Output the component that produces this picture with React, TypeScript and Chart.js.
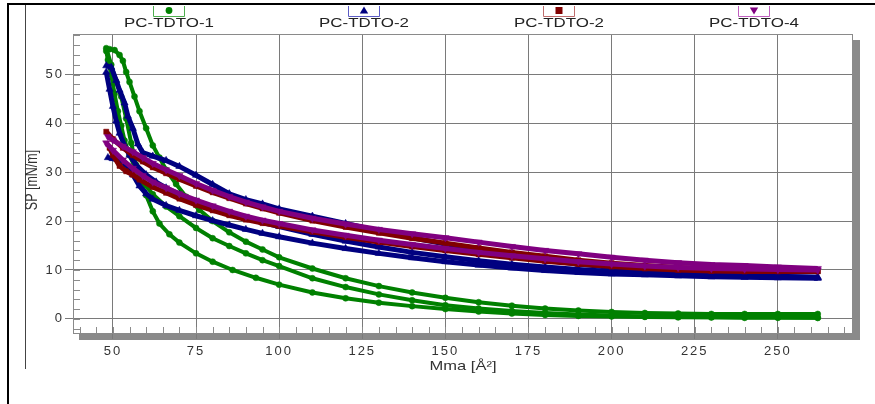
import React, { useEffect, useRef } from 'react';
import { Chart, registerables } from 'chart.js';

Chart.register(...registerables);

// ---- labels / ticks ----
const SERIES_NAMES = ['PC-TDTO-1', 'PC-TDTO-2', 'PC-TDTO-2', 'PC-TDTO-4'];
const X_TICKS = [50, 75, 100, 125, 150, 175, 200, 225, 250];
const Y_TICKS = [0, 10, 20, 30, 40, 50];
const X_TITLE = 'Mma [Å²]';
const Y_TITLE = 'SP [mN/m]';

// ---- PC-TDTO-1 (green, circles) ----
const G1_X = [49, 50.5, 52, 53, 54, 55, 56.5, 58, 60, 62, 64, 66, 69, 72, 76, 80, 85, 90, 95, 100, 110, 120, 130, 140, 150, 160, 170, 180, 190, 200, 210, 220, 230, 240, 250, 262];
const G1_Y = [55.2, 55.0, 54.0, 52.8, 50.5, 48.5, 45.5, 42.5, 39.0, 35.5, 33.0, 30.5, 27.6, 25.0, 22.3, 20.0, 17.7, 15.8, 14.2, 12.6, 10.3, 8.3, 6.7, 5.4, 4.3, 3.4, 2.7, 2.1, 1.7, 1.4, 1.2, 1.1, 1.0, 1.0, 1.0, 1.0];
const G2_X = [48, 48.5, 49.5, 50.5, 51.5, 52.5, 53.5, 55, 57, 59, 62, 66, 70, 75, 80, 85, 90, 95, 100, 110, 120, 130, 140, 150, 160, 170, 180, 190, 200, 210, 220, 230, 240, 250, 262];
const G2_Y = [54.8, 53.0, 50.0, 46.0, 42.5, 39.5, 36.5, 33.5, 30.5, 28.0, 25.5, 23.0, 21.0, 18.6, 16.5, 14.9, 13.4, 12.0, 10.8, 8.3, 6.5, 5.0, 3.8, 2.8, 2.1, 1.6, 1.2, 0.9, 0.7, 0.5, 0.4, 0.3, 0.3, 0.3, 0.2];
const G3_X = [48, 49.5, 51, 52.5, 54, 55.5, 57, 58.5, 60, 62, 64, 67, 70, 75, 80, 86, 93, 100, 110, 120, 130, 140, 150, 160, 170, 180, 190, 200, 210, 220, 230, 240, 250, 262];
const G3_Y = [55.4, 52.0, 48.5, 45.5, 41.0, 36.0, 31.5, 28.0, 25.3, 22.0, 19.5, 17.3, 15.6, 13.4, 11.7, 10.0, 8.4, 7.0, 5.4, 4.2, 3.3, 2.6, 2.0, 1.5, 1.1, 0.8, 0.6, 0.5, 0.4, 0.3, 0.3, 0.2, 0.2, 0.2];

// ---- PC-TDTO-2 (navy, triangles) ----
const B1_X = [48, 49.5, 51, 52, 53.5, 54.5, 56, 57.5, 59, 62, 66, 70, 75, 80, 85, 90, 95, 100, 110, 120, 130, 140, 150, 160, 170, 180, 190, 200, 210, 220, 230, 240, 250, 262];
const B1_Y = [51.8, 51.5, 48.8, 46.8, 44.2, 41.5, 39.0, 35.8, 34.0, 33.3, 32.4, 31.2, 29.4, 27.5, 25.6, 24.4, 23.5, 22.5, 21.0, 19.5, 18.0, 16.6, 15.3, 14.1, 13.0, 12.0, 11.2, 10.5, 9.9, 9.5, 9.2, 8.9, 8.7, 8.5];
const B2_X = [48.5, 50, 52, 54, 56, 58, 60, 62, 66, 70, 75, 80, 85, 90, 95, 100, 110, 120, 130, 140, 150, 160, 170, 180, 190, 200, 210, 220, 230, 240, 250, 262];
const B2_Y = [33.0, 32.8, 32.3, 31.5, 29.5, 27.2, 25.6, 24.5, 23.2, 22.2, 21.1, 20.1, 19.2, 18.3, 17.5, 16.8, 15.5, 14.4, 13.4, 12.5, 11.7, 11.0, 10.4, 9.9, 9.5, 9.2, 9.0, 8.8, 8.6, 8.5, 8.4, 8.3];
const B3_X = [48, 49, 50, 51, 52, 53.5, 55, 57, 60, 63, 66, 70, 75, 80, 85, 90, 95, 100, 110, 120, 130, 140, 150, 160, 170, 180, 190, 200, 210, 220, 230, 240, 250, 262];
const B3_Y = [50.5, 47.0, 43.5, 40.5, 38.0, 35.5, 33.5, 31.5, 29.5, 28.0, 26.8, 25.5, 24.0, 22.7, 21.6, 20.6, 19.7, 18.9, 17.3, 15.9, 14.7, 13.6, 12.7, 11.9, 11.2, 10.6, 10.1, 9.7, 9.4, 9.1, 8.9, 8.7, 8.6, 8.5];

// ---- PC-TDTO-2 (maroon, squares) ----
const R1_X = [48, 50, 53, 56, 59, 62, 66, 70, 75, 80, 85, 90, 95, 100, 110, 120, 130, 140, 150, 160, 170, 180, 190, 200, 210, 220, 230, 240, 250, 262];
const R1_Y = [38.3, 36.8, 35.0, 33.5, 32.2, 31.0, 29.8, 28.6, 27.2, 25.9, 24.7, 23.6, 22.6, 21.7, 20.1, 18.8, 17.6, 16.5, 15.5, 14.5, 13.6, 12.8, 12.0, 11.4, 10.9, 10.5, 10.2, 10.0, 9.9, 9.8];
const R2_X = [49, 50, 52, 54, 56, 58, 62, 66, 70, 75, 80, 85, 90, 95, 100, 110, 120, 130, 140, 150, 160, 170, 180, 190, 200, 210, 220, 230, 240, 250, 262];
const R2_Y = [35.0, 33.5, 31.3, 30.2, 29.5, 28.5, 27.0, 25.8, 24.6, 23.3, 22.2, 21.2, 20.3, 19.6, 19.0, 17.8, 16.7, 15.7, 14.8, 14.0, 13.2, 12.5, 11.8, 11.2, 10.7, 10.3, 10.0, 9.8, 9.7, 9.7, 9.7];

// ---- PC-TDTO-4 (purple, down triangles) ----
const P1_X = [48.5, 50, 53, 56, 59, 62, 66, 70, 75, 80, 85, 90, 95, 100, 110, 120, 130, 140, 150, 160, 170, 180, 190, 200, 210, 220, 230, 240, 250, 262];
const P1_Y = [37.3, 36.6, 35.3, 34.2, 33.0, 31.8, 30.5, 29.3, 27.7, 26.3, 25.0, 23.9, 22.9, 22.0, 20.6, 19.4, 18.3, 17.4, 16.6, 15.7, 14.8, 14.0, 13.3, 12.6, 12.0, 11.5, 11.1, 10.9, 10.6, 10.3];
const P2_X = [48, 50, 53, 56, 59, 62, 66, 70, 75, 80, 85, 90, 95, 100, 110, 120, 130, 140, 150, 160, 170, 180, 190, 200, 210, 220, 230, 240, 250, 262];
const P2_Y = [36.0, 34.5, 32.5, 30.8, 29.3, 28.0, 26.8, 25.6, 24.3, 23.1, 22.0, 21.0, 20.2, 19.5, 18.2, 17.1, 16.1, 15.2, 14.4, 13.6, 12.9, 12.3, 11.7, 11.2, 10.8, 10.5, 10.3, 10.2, 10.1, 10.0];

const SERIES_BRANCHES = [
  [[G1_X, G1_Y], [G2_X, G2_Y], [G3_X, G3_Y]],
  [[B1_X, B1_Y], [B2_X, B2_Y], [B3_X, B3_Y]],
  [[R1_X, R1_Y], [R2_X, R2_Y]],
  [[P1_X, P1_Y], [P2_X, P2_Y]],
];

const STYLES = [
  { color: '#008000', box: '#4fae4f', style: 'circle', rotation: 0, radius: 3.0, width: 4, order: 3 },
  { color: '#000080', box: '#5b5bc4', style: 'triangle', rotation: 0, radius: 4.2, width: 5, order: 2 },
  { color: '#800000', box: '#bf6d6d', style: 'rect', rotation: 0, radius: 3.6, width: 5, order: 1 },
  { color: '#800080', box: '#bf5fbf', style: 'triangle', rotation: 180, radius: 4.2, width: 5, order: 0 },
];

const FONT = '"Liberation Sans", Arial, sans-serif';

function pts(xs: number[], ys: number[]) {
  return xs.map((x, i) => ({ x, y: ys[i] }));
}

function drawMarker(ctx: CanvasRenderingContext2D, kind: number, cx: number, cy: number) {
  const s = STYLES[kind];
  ctx.fillStyle = s.color;
  ctx.beginPath();
  if (kind === 0) {
    ctx.arc(cx, cy, 3.4, 0, Math.PI * 2);
  } else if (kind === 1) {
    ctx.moveTo(cx, cy - 4);
    ctx.lineTo(cx + 4.2, cy + 3);
    ctx.lineTo(cx - 4.2, cy + 3);
  } else if (kind === 2) {
    ctx.rect(cx - 3.5, cy - 3.5, 7, 7);
  } else {
    ctx.moveTo(cx, cy + 4);
    ctx.lineTo(cx + 4.2, cy - 3);
    ctx.lineTo(cx - 4.2, cy - 3);
  }
  ctx.closePath();
  ctx.fill();
}

const decorPlugin = {
  id: 'decor',
  beforeDraw(chart: any) {
    const ctx: CanvasRenderingContext2D = chart.ctx;
    const a = chart.chartArea;
    ctx.save();
    ctx.fillStyle = '#ffffff';
    ctx.fillRect(0, 0, chart.width, chart.height);
    // outer frame
    ctx.fillStyle = '#000000';
    ctx.fillRect(7, 3, 2, chart.height - 3);
    ctx.fillRect(7, 3, chart.width - 7, 2);
    // thin inner line
    ctx.strokeStyle = '#444444';
    ctx.lineWidth = 1;
    ctx.beginPath();
    ctx.moveTo(25.5, 5);
    ctx.lineTo(25.5, 369);
    ctx.stroke();
    // plot shadow
    ctx.fillStyle = '#8a8a8a';
    ctx.fillRect(a.right, a.top + 6, 7, a.bottom - a.top + 1);
    ctx.fillRect(a.left + 6, a.bottom, a.right - a.left + 1, 7);
    ctx.fillStyle = '#ffffff';
    ctx.fillRect(a.left, a.top, a.right - a.left, a.bottom - a.top);
    ctx.restore();
    (ctx as any).letterSpacing = '2px';
  },
  beforeDatasetsDraw(chart: any) {
    const ctx: CanvasRenderingContext2D = chart.ctx;
    (ctx as any).letterSpacing = '0px';
    const a = chart.chartArea;
    const xs = chart.scales.x;
    const ys = chart.scales.y;
    ctx.save();
    ctx.lineWidth = 1;
    // minor ticks
    ctx.strokeStyle = '#8c8c8c';
    ctx.beginPath();
    for (let v = 40; v <= 270; v += 5) {
      const px = Math.round(xs.getPixelForValue(v)) + 0.5;
      ctx.moveTo(px, a.bottom);
      ctx.lineTo(px, a.bottom - 6);
    }
    for (let v = -2; v <= 58; v += 2) {
      const py = Math.round(ys.getPixelForValue(v)) + 0.5;
      ctx.moveTo(a.left, py);
      ctx.lineTo(a.left + 7, py);
    }
    ctx.stroke();
    // plot border
    ctx.strokeStyle = '#8a8a8a';
    ctx.strokeRect(a.left + 0.5, a.top + 0.5, a.right - a.left - 1, a.bottom - a.top);
    ctx.restore();
  },
  afterDraw(chart: any) {
    const ctx: CanvasRenderingContext2D = chart.ctx;
    (ctx as any).letterSpacing = '0px';
    const a = chart.chartArea;
    const w = (a.right - a.left) / 4;
    ctx.save();
    SERIES_NAMES.forEach((name, i) => {
      const cx = Math.round(a.left + w * (i + 0.5) - 2);
      ctx.strokeStyle = STYLES[i].box;
      ctx.lineWidth = 1;
      ctx.beginPath();
      ctx.moveTo(cx - 15.5, 6);
      ctx.lineTo(cx - 15.5, 16.5);
      ctx.lineTo(cx + 15.5, 16.5);
      ctx.lineTo(cx + 15.5, 6);
      ctx.stroke();
      drawMarker(ctx, i, cx, 10.5);
      ctx.save();
      ctx.translate(cx, 23.5);
      ctx.scale(1.3, 1);
      ctx.fillStyle = '#222222';
      ctx.font = '13px ' + FONT;
      ctx.textAlign = 'center';
      ctx.textBaseline = 'middle';
      ctx.fillText(name, 0, 0);
      ctx.restore();
    });
    // axis titles
    ctx.fillStyle = '#333333';
    ctx.textAlign = 'center';
    ctx.textBaseline = 'middle';
    ctx.save();
    ctx.translate((a.left + a.right) / 2, 366);
    ctx.scale(1.27, 1);
    ctx.font = '13px ' + FONT;
    ctx.fillText(X_TITLE, 0, 0);
    ctx.restore();
    ctx.save();
    ctx.translate(32.5, 180);
    ctx.rotate(-Math.PI / 2);
    ctx.scale(1, 1.27);
    ctx.font = '12.5px ' + FONT;
    ctx.fillText(Y_TITLE, 0, 0);
    ctx.restore();
    ctx.restore();
  },
};

export default function App() {
  const ref = useRef<HTMLCanvasElement>(null);
  useEffect(() => {
    const canvas = ref.current;
    if (!canvas) return;
    const datasets: any[] = [];
    SERIES_BRANCHES.forEach((branches, si) => {
      const s = STYLES[si];
      branches.forEach(([xs, ys], bi) => {
        datasets.push({
          label: SERIES_NAMES[si] + ' #' + (bi + 1),
          data: pts(xs, ys),
          showLine: true,
          borderColor: s.color,
          backgroundColor: s.color,
          borderWidth: s.width,
          pointStyle: s.style,
          rotation: s.rotation,
          pointRadius: s.radius,
          pointBorderWidth: 0.5,
          pointBorderColor: s.color,
          order: s.order,
        });
      });
    });
    const chart = new Chart(canvas, {
      type: 'scatter',
      data: { datasets },
      options: {
        animation: false,
        responsive: false,
        devicePixelRatio: 1,
        layout: { padding: { left: 0, top: 34, right: 22, bottom: 0 } },
        plugins: { legend: { display: false }, tooltip: { enabled: false } },
        scales: {
          x: {
            type: 'linear',
            min: 38,
            max: 272.6,
            afterFit: (scale: any) => { scale.height = 71; },
            afterBuildTicks: (scale: any) => { scale.ticks = X_TICKS.map((v) => ({ value: v })); },
            ticks: { autoSkip: false, maxRotation: 0, color: '#333333', font: { family: FONT, size: 13 }, padding: 5 },
            grid: { color: '#7a7a7a', lineWidth: 1, tickLength: 6, tickColor: '#7a7a7a' },
            border: { display: false },
          },
          y: {
            type: 'linear',
            min: -2.9,
            max: 58.3,
            afterFit: (scale: any) => { scale.width = 73; },
            afterBuildTicks: (scale: any) => { scale.ticks = Y_TICKS.map((v) => ({ value: v })); },
            ticks: { color: '#333333', font: { family: FONT, size: 13 }, padding: 1 },
            grid: { color: '#7a7a7a', lineWidth: 1, tickLength: 8, tickColor: '#7a7a7a' },
            border: { display: false },
          },
        },
      },
      plugins: [decorPlugin],
    } as any);
    return () => chart.destroy();
  }, []);
  return (
    <div style={{ position: 'absolute', left: 0, top: 0, width: 875, height: 404, background: '#ffffff' }}>
      <canvas ref={ref} width={875} height={404} style={{ display: 'block', width: 875, height: 404 }} />
    </div>
  );
}
